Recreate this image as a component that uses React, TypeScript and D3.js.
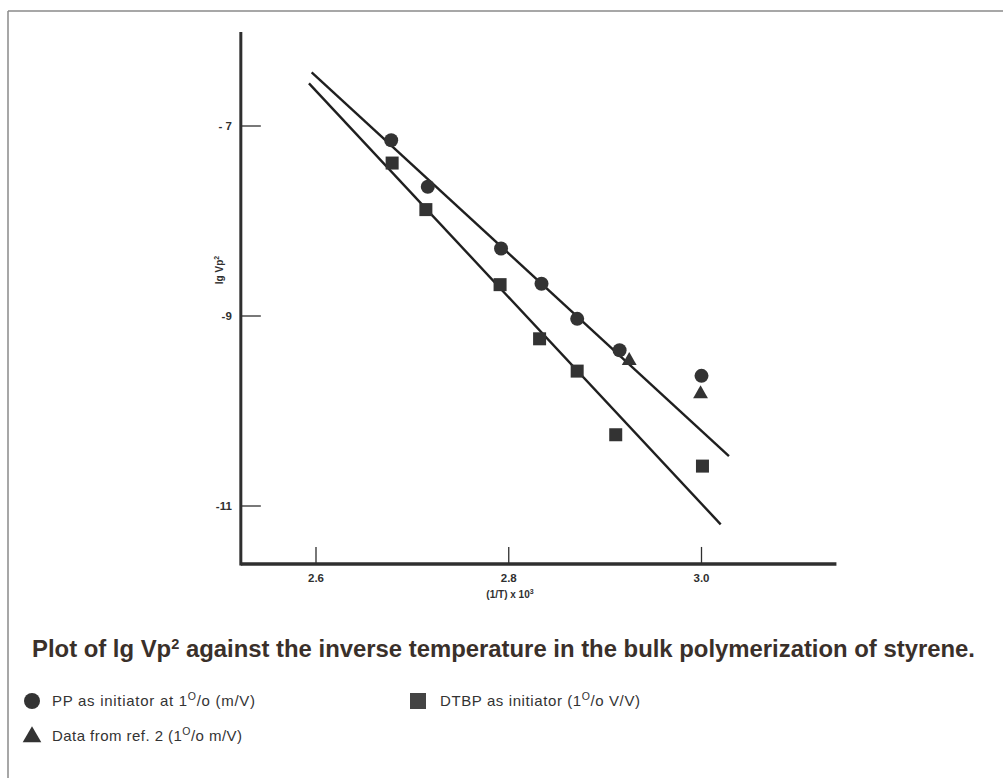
import React from 'react';
import * as d3 from 'd3';

// values
const circleX = [2.678, 2.716, 2.792, 2.834, 2.871, 2.915, 3.0];
const circleY = [-7.15, -7.64, -8.29, -8.66, -9.03, -9.36, -9.63];
const squareX = [2.679, 2.714, 2.791, 2.832, 2.871, 2.911, 3.001];
const squareY = [-7.39, -7.88, -8.67, -9.24, -9.58, -10.25, -10.58];
const triangleX = [2.925, 2.999];
const triangleY = [-9.47, -9.82];
const upperFit = [[2.5955, -6.435], [3.0285, -10.474]];
const lowerFit = [[2.5927, -6.551], [3.0199, -11.193]];
const xTicks = [2.6, 2.8, 3.0];
const xTickLabels = ['2.6', '2.8', '3.0'];
const yTicks = [-7, -9, -11];
const yTickLabels = ['- 7', '-9', '-11'];
const xAxisRange = [2.522, 3.14];
const yAxisRange = [-11.61, -6.01];

const W = 1003;
const H = 778;

export default function App() {
    const x = d3.scaleLinear().domain([2.6, 3.0]).range([316, 701.5]);
    const y = d3.scaleLinear().domain([-7, -11]).range([126, 506]);
    const line = d3.line<number[]>().x(d => x(d[0])).y(d => y(d[1]));

    const ink = '#2f2f2f';
    const x0 = x(xAxisRange[0]);
    const y0 = y(yAxisRange[0]);

    const sq = 13;
    const tri = d3.symbol().type(d3.symbolTriangle).size(95)();
    const sans = 'Liberation Sans, Arial, sans-serif';

    const percent = (rest: string) => (
        <>
            1<tspan dy={-6} fontSize="0.7em">O</tspan><tspan dy={6}>/o</tspan>{rest}
        </>
    );

    return (
        <svg width={W} height={H} style={{ position: 'absolute', left: 0, top: 0, background: '#fff' }}>
            {/* scan frame */}
            <line x1={8} y1={11} x2={W} y2={11} stroke="#8a8a8a" strokeWidth={1.5} />
            <line x1={8} y1={11} x2={8} y2={H} stroke="#8a8a8a" strokeWidth={1.5} />

            {/* axes */}
            <line x1={x0} y1={y(yAxisRange[1])} x2={x0} y2={y0 + 1.5} stroke={ink} strokeWidth={3} />
            <line x1={x0} y1={y0} x2={x(xAxisRange[1])} y2={y0} stroke={ink} strokeWidth={3.5} />

            {yTicks.map((t, i) => (
                <g key={t}>
                    <line x1={x0} x2={x0 + 20} y1={y(t)} y2={y(t)} stroke={ink} strokeWidth={1.3} />
                    <text x={x0 - 9} y={y(t)} dy="0.35em" textAnchor="end" fontFamily={sans} fontWeight="bold" fontSize={11.5} fill={ink}>{yTickLabels[i]}</text>
                </g>
            ))}
            {xTicks.map((t, i) => (
                <g key={t}>
                    <line x1={x(t)} x2={x(t)} y1={y0} y2={y0 - 17} stroke={ink} strokeWidth={1.3} />
                    <text x={x(t)} y={y0 + 18} textAnchor="middle" fontFamily={sans} fontWeight="bold" fontSize={11.5} fill={ink}>{xTickLabels[i]}</text>
                </g>
            ))}

            <text x={510} y={598} textAnchor="middle" fontFamily={sans} fontWeight="bold" fontSize={10} fill={ink}>
                (1/T)  x  10<tspan dy={-4} fontSize={7}>3</tspan>
            </text>
            <text transform="translate(223,270) rotate(-90)" textAnchor="middle" fontFamily={sans} fontWeight="bold" fontSize={10} fill={ink}>
                lg  Vp<tspan dy={-4} fontSize={7}>2</tspan>
            </text>

            {/* fitted lines */}
            <path d={line(upperFit) || ''} stroke="#1f1f1f" strokeWidth={2.4} fill="none" />
            <path d={line(lowerFit) || ''} stroke="#1f1f1f" strokeWidth={2.4} fill="none" />

            {/* points */}
            {circleX.map((v, i) => (
                <circle key={'c' + i} cx={x(v)} cy={y(circleY[i])} r={7} fill="#333" />
            ))}
            {squareX.map((v, i) => (
                <rect key={'s' + i} x={x(v) - sq / 2} y={y(squareY[i]) - sq / 2} width={sq} height={sq} fill="#333" />
            ))}
            {triangleX.map((v, i) => (
                <path key={'t' + i} d={tri || ''} transform={`translate(${x(v)},${y(triangleY[i])})`} fill="#333" />
            ))}

            {/* caption */}
            <text x={32} y={657} textLength={943} lengthAdjust="spacingAndGlyphs" fontFamily="Liberation Sans Narrow, Arial Narrow, sans-serif" fontWeight="bold" fontSize={23} fill="#3a302a">
                Plot of lg Vp<tspan dy={-8} fontSize={14}>2</tspan><tspan dy={8}> against the inverse temperature in the bulk polymerization of styrene.</tspan>
            </text>

            {/* legend */}
            <circle cx={32} cy={701} r={8} fill="#333" />
            <text x={52} y={706} textLength={203} lengthAdjust="spacing" fontFamily={sans} fontSize={15} fill="#333">
                PP as initiator at {percent(' (m/V)')}
            </text>
            <rect x={410} y={693} width={16} height={16} fill="#444" />
            <text x={440} y={706} textLength={200} lengthAdjust="spacing" fontFamily={sans} fontSize={15} fill="#333">
                DTBP as initiator  ({percent(' V/V)')}
            </text>
            <path d={d3.symbol().type(d3.symbolTriangle).size(150)() || ''} transform="translate(32,737)" fill="#333" />
            <text x={52} y={741} textLength={190} lengthAdjust="spacing" fontFamily={sans} fontSize={15} fill="#333">
                Data from ref. 2  ({percent(' m/V)')}
            </text>
        </svg>
    );
}
